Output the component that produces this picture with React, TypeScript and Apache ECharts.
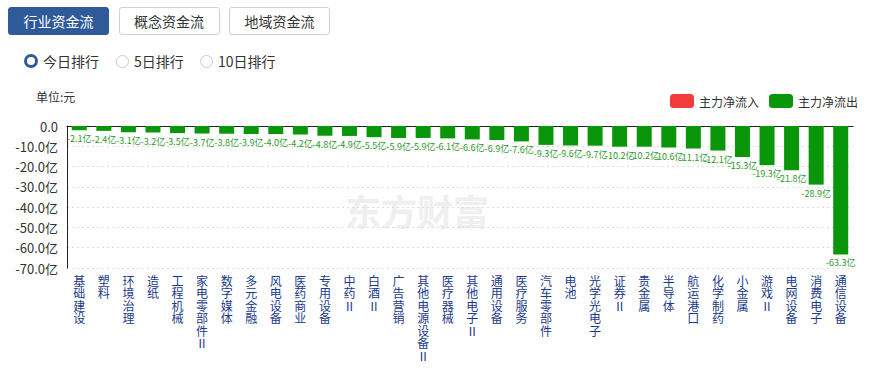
import React, { useEffect, useRef } from "react";
import * as echarts from "echarts";

const categories = [
  "基础建设", "塑料", "环境治理", "造纸", "工程机械", "家电零部件Ⅱ", "数字媒体", "多元金融",
  "风电设备", "医药商业", "专用设备", "中药Ⅱ", "白酒Ⅱ", "广告营销", "其他电源设备Ⅱ", "医疗器械",
  "其他电子Ⅱ", "通用设备", "医疗服务", "汽车零部件", "电池", "光学光电子", "证券Ⅱ", "贵金属",
  "半导体", "航运港口", "化学制药", "小金属", "游戏Ⅱ", "电网设备", "消费电子", "通信设备",
];
const outflow = [
  -2.1, -2.4, -3.1, -3.2, -3.5, -3.7, -3.8, -3.9, -4.0, -4.2, -4.8, -4.9, -5.5, -5.9, -5.9, -6.1,
  -6.6, -6.9, -7.6, -9.3, -9.6, -9.7, -10.2, -10.2, -10.6, -11.1, -12.1, -15.3, -19.3, -21.8, -28.9, -63.3,
];
const inflow: (number | null)[] = categories.map(() => null);
const tabs = ["行业资金流", "概念资金流", "地域资金流"];
const ranks = ["今日排行", "5日排行", "10日排行"];
const legendNames = ["主力净流入", "主力净流出"];

const FONT = '"Microsoft YaHei", "Noto Sans CJK SC", sans-serif';

export default function App() {
  const ref = useRef<HTMLDivElement>(null);
  useEffect(() => {
    const chart = echarts.init(ref.current!, undefined, { renderer: "svg" });
    chart.setOption({
      animation: false,
      textStyle: { fontFamily: FONT },
      graphic: [
        {
          type: "text",
          left: 36,
          top: 90,
          style: { text: "单位:元", fill: "#333", font: `12px ${FONT}` },
        },
        {
          type: "text",
          left: 345,
          top: 192,
          z: -1,
          style: { text: "东方财富", fill: "#efefef", font: `bold 36px ${FONT}` },
        },
      ],
      legend: {
        data: legendNames,
        right: 8,
        top: 89,
        itemWidth: 24,
        itemHeight: 14,
        itemGap: 10,
        textStyle: { fontSize: 12, color: "#333" },
      },
      grid: { left: 67, right: 18, top: 126, bottom: 100 },
      xAxis: [
        {
          type: "category",
          data: categories,
          position: "bottom",
          axisLine: { show: false, onZero: false },
          axisTick: { show: false },
          axisLabel: {
            interval: 0,
            color: "#1a3a8c",
            fontSize: 12,
            lineHeight: 12.5,
            margin: 6,
            formatter: (v: string) => v.split("").join("\n"),
          },
        },
        {
          type: "category",
          data: categories,
          position: "top",
          axisLine: { show: true, onZero: false, lineStyle: { color: "#222", width: 1 } },
          axisTick: { show: false },
          axisLabel: { show: false },
        },
      ],
      yAxis: {
        type: "value",
        min: -70,
        max: 0,
        interval: 10,
        axisLine: { show: true, lineStyle: { color: "#222" } },
        axisTick: { show: false },
        axisLabel: {
          color: "#333",
          fontSize: 13,
          margin: 9,
          formatter: (v: number) => (v === 0 ? "0.0" : v.toFixed(1) + "亿"),
        },
        splitLine: { show: true, lineStyle: { color: "#ddd", type: [2, 3] } },
      },
      series: [
        {
          name: legendNames[0],
          type: "bar",
          data: inflow,
          itemStyle: { color: "#f23c3c", borderRadius: 3 },
          barWidth: 15,
          barGap: "-100%",
        },
        {
          name: legendNames[1],
          type: "bar",
          data: outflow,
          barWidth: 15,
          itemStyle: { color: "#0a960a", borderRadius: 0 },
          label: {
            show: true,
            position: "bottom",
            distance: 4,
            color: "#2a9a2a",
            fontSize: 9,
            formatter: (p: any) => p.value.toFixed(1) + "亿",
          },
        },
      ],
    });
    return () => chart.dispose();
  }, []);

  const btnBase: React.CSSProperties = {
    position: "absolute",
    top: 7,
    height: 28,
    width: 101,
    boxSizing: "border-box",
    borderRadius: 3,
    fontSize: 14,
    lineHeight: "26px",
    textAlign: "center",
    fontFamily: FONT,
  };

  return (
    <div style={{ position: "fixed", left: 0, top: 0, width: 871, height: 368, background: "#fff" }}>
      <div ref={ref} style={{ position: "absolute", left: 0, top: 0, width: 871, height: 368 }} />
      {tabs.map((t, i) => (
        <div
          key={t}
          style={{
            ...btnBase,
            left: 8 + i * 110.5,
            background: i === 0 ? "#2f5a99" : "#fff",
            color: i === 0 ? "#fff" : "#333",
            border: i === 0 ? "1px solid #2f5a99" : "1px solid #c9d3e0",
          }}
        >
          {t}
        </div>
      ))}
      {ranks.map((r, i) => {
        const lefts = [24, 116, 200];
        return (
          <div
            key={r}
            style={{
              position: "absolute",
              left: lefts[i],
              top: 51,
              height: 20,
              display: "flex",
              alignItems: "center",
              fontFamily: FONT,
              fontSize: 14,
              color: "#333",
            }}
          >
            <span
              style={{
                display: "inline-block",
                width: i === 0 ? 8 : 11,
                height: i === 0 ? 8 : 11,
                borderRadius: "50%",
                border: i === 0 ? "3px solid #2f5a99" : "1px solid #ccc",
                marginRight: 5,
              }}
            />
            {r}
          </div>
        );
      })}
    </div>
  );
}
